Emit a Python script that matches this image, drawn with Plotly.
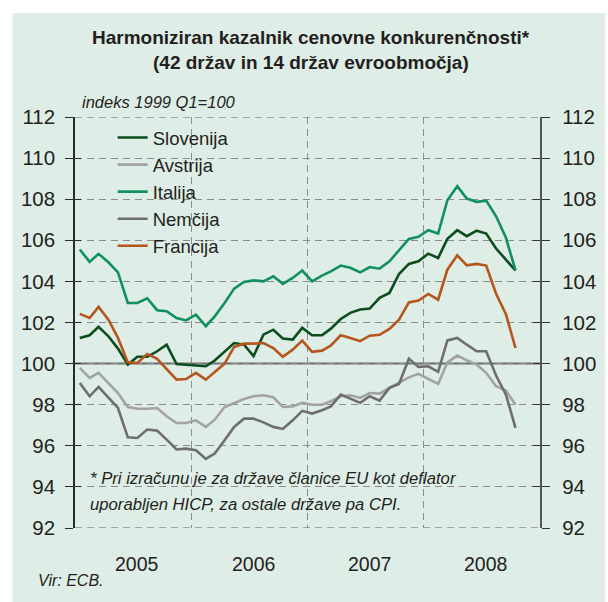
import pandas as pd
import plotly.graph_objects as go

months = [d + pd.Timedelta(days=15) for d in pd.date_range("2005-01-01", "2008-10-01", freq="MS")]

slovenija = [101.25, 101.38, 101.79, 101.33, 100.73, 99.95, 100.33, 100.33, 100.6, 100.92,
             99.98, 99.95, 99.9, 99.87, 100.15, 100.6, 101.0, 100.92, 100.36, 101.41,
             101.65, 101.22, 101.17, 101.74, 101.38, 101.38, 101.7, 102.17, 102.47, 102.63,
             102.68, 103.2, 103.44, 104.36, 104.85, 104.98, 105.35, 105.14, 106.07, 106.49,
             106.2, 106.47, 106.33, 105.6, 105.06, 104.53]
avstrija = [99.79, 99.3, 99.55, 99.06, 98.57, 97.89, 97.8, 97.8, 97.84, 97.44,
            97.11, 97.11, 97.24, 96.92, 97.27, 97.89, 98.09, 98.28, 98.41, 98.46,
            98.36, 97.89, 97.92, 98.09, 98.0, 98.0, 98.17, 98.41, 98.46, 98.33,
            98.57, 98.54, 98.82, 99.09, 99.33, 99.5, 99.25, 99.01, 100.06, 100.39,
            100.16, 99.95, 99.55, 98.9, 98.69, 98.0]
italija = [105.55, 104.95, 105.34, 104.93, 104.44, 102.95, 102.95, 103.18, 102.6, 102.55,
           102.22, 102.1, 102.38, 101.82, 102.3, 102.95, 103.65, 103.97, 104.05, 104.0,
           104.25, 103.88, 104.17, 104.53, 104.0, 104.28, 104.49, 104.77, 104.66, 104.44,
           104.7, 104.62, 104.98, 105.5, 106.07, 106.17, 106.49, 106.33, 107.95, 108.63,
           108.03, 107.87, 107.93, 107.17, 106.12, 104.54]
nemcija = [99.06, 98.41, 98.87, 98.33, 97.84, 96.41, 96.38, 96.79, 96.74, 96.3,
           95.82, 95.86, 95.78, 95.36, 95.62, 96.27, 96.92, 97.32, 97.32, 97.14,
           96.92, 96.82, 97.24, 97.7, 97.57, 97.73, 97.92, 98.49, 98.28, 98.09,
           98.41, 98.2, 98.82, 99.01, 100.24, 99.84, 99.87, 99.6, 101.13, 101.25,
           100.92, 100.6, 100.6, 99.42, 98.49, 96.87]
francija = [102.42, 102.22, 102.76, 102.14, 101.25, 100.06, 100.03, 100.47, 100.23, 99.71,
            99.22, 99.25, 99.55, 99.22, 99.58, 100.0, 100.81, 100.97, 100.97, 101.0,
            100.76, 100.33, 100.68, 101.12, 100.57, 100.63, 100.88, 101.38, 101.25, 101.09,
            101.36, 101.4, 101.69, 102.14, 102.98, 103.07, 103.39, 103.11, 104.57, 105.27,
            104.78, 104.85, 104.77, 103.4, 102.4, 100.76]

series_names = ["Slovenija", "Avstrija", "Italija", "Nemčija", "Francija"]
series_vals = [slovenija, avstrija, italija, nemcija, francija]
colors = ["#0b4d1e", "#a3a3a3", "#109061", "#6e6e70", "#b4561d"]
series_axes = ["y", "y", "y2", "y3", "y4"]

year_labels = ["2005", "2006", "2007", "2008"]
year_mid = ["2005-07-02", "2006-07-02", "2007-07-02", "2008-07-02"]
year_bounds = ["2005-01-01", "2006-01-01", "2007-01-01", "2008-01-01", "2009-01-01"]
y_ticks = list(range(92, 113, 2))
y_range = [92, 112]

FONT = "Liberation Sans, Arial, sans-serif"
TXT = "#231f20"
BG = "#deede6"
GRID = "#8c8c8c"
DASH = "7px,5px"

fig = go.Figure()
for name, vals, col, ax in zip(series_names, series_vals, colors, series_axes):
    fig.add_trace(go.Scatter(x=months, y=vals, name=name, mode="lines", yaxis=ax,
                             line=dict(color=col, width=2.6)))

# plot area: x 75..544, y 117.4..528.4
L, R, T, B = 75, 64, 117, 74
pw, ph = 608 - L - R, 602 - T - B

def px(xp):
    return (xp - L) / pw

def py(yp):
    return (602 - B - yp) / ph

shapes = [
    dict(type="rect", xref="paper", yref="paper", x0=px(12), x1=px(610), y0=py(604), y1=py(13),
         fillcolor=BG, line=dict(width=0), layer="below"),
    dict(type="line", xref="paper", yref="y", x0=0, x1=1, y0=100, y1=100,
         line=dict(color="#6a6a6a", width=2), layer="below"),
]
for yv in (y_ticks[0], y_ticks[-1]):
    shapes.append(dict(type="line", xref="paper", yref="y", x0=0, x1=1, y0=yv, y1=yv,
                       line=dict(color=GRID, width=1.3, dash=DASH), layer="below"))

annotations = [
    dict(text="<b>Harmoniziran kazalnik cenovne konkurenčnosti*</b>", xref="paper", yref="paper",
         x=px(313), y=py(37), xanchor="center", yanchor="middle", showarrow=False,
         font=dict(family=FONT, size=19, color=TXT)),
    dict(text="<b>(42 držav in 14 držav evroobmočja)</b>", xref="paper", yref="paper",
         x=px(313), y=py(63), xanchor="center", yanchor="middle", showarrow=False,
         font=dict(family=FONT, size=19, color=TXT)),
    dict(text="<i>indeks 1999 Q1=100</i>", xref="paper", yref="paper",
         x=px(80), y=py(101.5), xanchor="left", yanchor="middle", showarrow=False,
         font=dict(family=FONT, size=16.5, color=TXT)),
    dict(text="<i>* Pri izračunu je za države članice EU kot deflator</i>", xref="paper", yref="paper",
         x=px(88.5), y=py(478), xanchor="left", yanchor="middle", showarrow=False,
         font=dict(family=FONT, size=16.7, color=TXT)),
    dict(text="<i>uporabljen HICP, za ostale države pa CPI.</i>", xref="paper", yref="paper",
         x=px(88.5), y=py(504), xanchor="left", yanchor="middle", showarrow=False,
         font=dict(family=FONT, size=16.7, color=TXT)),
    dict(text="<i>Vir: ECB.</i>", xref="paper", yref="paper",
         x=px(36), y=py(580), xanchor="left", yanchor="middle", showarrow=False,
         font=dict(family=FONT, size=16, color=TXT)),
]
for lab, xm in zip(year_labels, year_mid):
    annotations.append(dict(text=lab, xref="x", yref="paper", x=xm, y=py(564), xshift=4,
                            xanchor="center", yanchor="middle", showarrow=False,
                            font=dict(family=FONT, size=19.5, color=TXT)))

grid = dict(showgrid=True, gridcolor=GRID, gridwidth=1.3, griddash=DASH)
common = dict(range=y_range, tickvals=y_ticks, zeroline=False)

fig.update_layout(
    width=608, height=602,
    margin=dict(l=L, r=R, t=T, b=B),
    paper_bgcolor="white", plot_bgcolor="rgba(0,0,0,0)",
    font=dict(family=FONT, color=TXT),
    showlegend=True,
    legend=dict(x=px(113), y=py(119), xanchor="left", yanchor="top",
                bgcolor="rgba(0,0,0,0)", borderwidth=0,
                font=dict(family=FONT, size=18.5, color=TXT), itemwidth=30),
    xaxis=dict(type="date", range=[year_bounds[0], year_bounds[-1]], tickvals=year_bounds,
               showticklabels=False, ticks="", zeroline=False, showline=False, **grid),
    yaxis=dict(side="left", showline=True,
               linecolor="#2a2a2a", linewidth=1.5, ticks="outside", ticklen=8,
               tickcolor="#2a2a2a", tickwidth=1.3, ticklabelstandoff=6,
               tickfont=dict(family=FONT, size=20.5, color=TXT), **grid, **common),
    yaxis2=dict(overlaying="y", side="right", anchor="x",
                showline=True, linecolor="#555555", linewidth=2.2, ticks="outside", ticklen=8,
                tickcolor="#333333", tickwidth=1.3, ticklabelstandoff=8,
                tickfont=dict(family=FONT, size=20.5, color=TXT), showgrid=False, **common),
    yaxis3=dict(overlaying="y", side="left", anchor="x",
                showline=False, ticks="inside", ticklen=6, tickcolor="#2a2a2a", tickwidth=1.3,
                showticklabels=False, showgrid=False, **common),
    yaxis4=dict(overlaying="y", side="right", anchor="x",
                showline=False, ticks="inside", ticklen=7, tickcolor="#333333", tickwidth=1.3,
                showticklabels=False, showgrid=False, **common),
    shapes=shapes,
    annotations=annotations,
)

fig.write_html("out.html", config={"displayModeBar": False},
               post_script="document.body.style.margin='0';document.body.style.overflow='hidden';")
